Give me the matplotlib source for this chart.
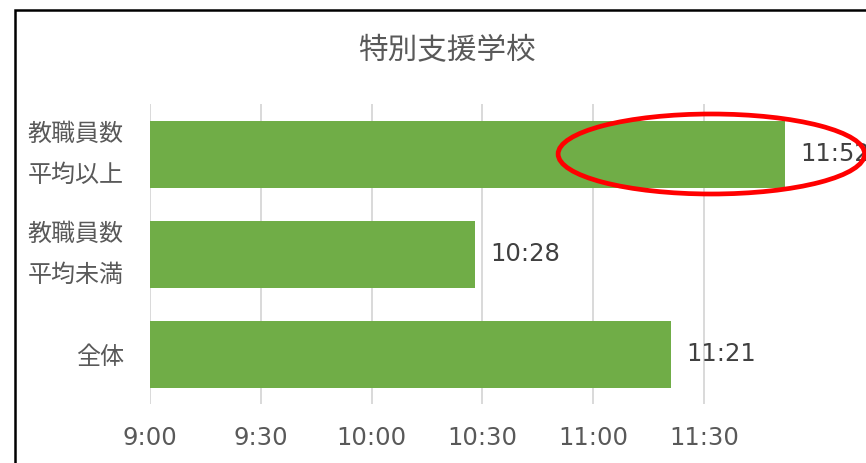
import matplotlib
matplotlib.use("Agg")
import matplotlib.pyplot as plt
import matplotlib.transforms as mtransforms
from matplotlib.patches import Rectangle, Ellipse

plt.rcParams['font.family'] = ['Noto Sans CJK JP', 'DejaVu Sans']

title = "特別支援学校"
categories = ["教職員数\n平均以上", "教職員数\n平均未満", "全体"]
times = ["11:52", "10:28", "11:21"]
tick_labels = ["9:00", "9:30", "10:00", "10:30", "11:00", "11:30"]
base_time = "9:00"

def to_min(s):
    h, m = s.split(":")
    return int(h) * 60 + int(m)

base = to_min(base_time)
values = [to_min(t) - base for t in times]
tick_pos = [to_min(t) - base for t in tick_labels]

W, H = 866, 463
fig = plt.figure(figsize=(W / 100, H / 100), dpi=100)
fig.patch.set_facecolor("white")

ax_left, ax_right = 150, 866
ax_top, ax_bot = 104, 404
ax = fig.add_axes([ax_left / W, 1 - ax_bot / H, (ax_right - ax_left) / W, (ax_bot - ax_top) / H])

px_per_min = 110.8 / 30
ax.set_xlim(0, (ax_right - ax_left) / px_per_min)
ax.set_ylim(len(categories) - 0.5, -0.5)

ypos = list(range(len(categories)))
ax.barh(ypos, values, height=0.67, color="#70AD47", zorder=2)

for y, v, t in zip(ypos, values, times):
    ax.annotate(t, xy=(v, y), xytext=(11, 0), textcoords="offset points",
                ha="left", va="center", fontsize=17.5, color="#404040",
                family=["DejaVu Sans"], annotation_clip=False)

ax.set_xticks(tick_pos)
ax.set_xticklabels(tick_labels, family=["DejaVu Sans"], fontsize=17.5, color="#595959")
ax.set_yticks(ypos)
ax.set_yticklabels(categories, fontsize=17.3, color="#595959", linespacing=1.73)
ax.tick_params(axis="x", length=0, pad=16)
ax.tick_params(axis="y", length=0, pad=19)
ax.grid(axis="x", color="#D9D9D9", linewidth=1.4, zorder=0)
ax.set_axisbelow(True)
for s in ax.spines.values():
    s.set_visible(False)

# nudge two-line category labels up to sit centred on their bars
shift = mtransforms.ScaledTranslation(0, 10 / 100, fig.dpi_scale_trans)
for lbl in ax.get_yticklabels():
    if "\n" in lbl.get_text():
        lbl.set_transform(lbl.get_transform() + shift)

# red highlight ellipse around the end of the top bar
ell = Ellipse((values[0] - 20, 0), width=83, height=0.8, fill=False,
              edgecolor="#FF0000", linewidth=3.4, zorder=5, clip_on=False)
ax.add_patch(ell)

fig.text(447 / W, 1 - 51 / H, title, ha="center", va="center",
         fontsize=21.3, color="#595959")

# outer frame (cropped on right and bottom)
frame = Rectangle((15 / W, -0.2), 1.5, 1.2 - 10 / H, transform=fig.transFigure,
                  fill=False, edgecolor="black", linewidth=1.8, zorder=10)
fig.patches.append(frame)

fig.savefig("out.png", dpi=100, facecolor="white")
